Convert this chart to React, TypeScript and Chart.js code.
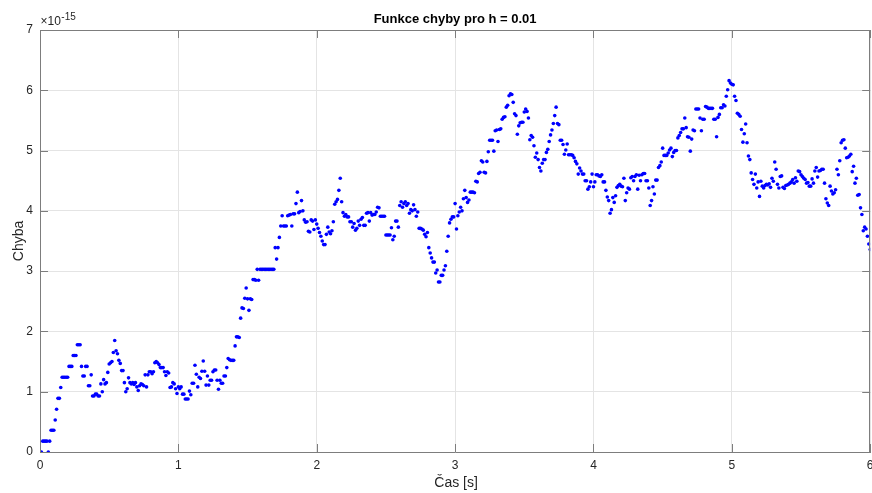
import React, { useEffect, useRef } from "react";
import { Chart, registerables } from "chart.js";

Chart.register(...registerables);

// Error values in units of 1e-15, sampled every h = 0.01 s
const STEP_H = 0.01;
const Y_EXPONENT = -15;

const err0to1 = [
  0, 0, 0.18, 0.18, 0.18, 0.18, 0, 0.18, 0.36, 0.36,
  0.36, 0.53, 0.71, 0.89, 0.89, 1.07, 1.24, 1.24, 1.24, 1.24,
  1.24, 1.42, 1.42, 1.42, 1.6, 1.6, 1.6, 1.78, 1.78, 1.78,
  1.42, 1.26, 1.26, 1.42, 1.42, 1.1, 1.1, 1.28, 0.93, 0.93,
  0.96, 0.96, 0.93, 0.93, 1.13, 1.0, 1.2, 1.13, 1.15, 1.32,
  1.46, 1.48, 1.5, 1.65, 1.85, 1.68, 1.63, 1.52, 1.47, 1.35,
  1.35, 1.15, 1.0, 1.05, 1.23, 1.15, 1.13, 1.15, 1.12, 1.15,
  1.08, 1.02, 1.1, 1.13, 1.12, 1.1, 1.28, 1.08, 1.28, 1.33,
  1.33, 1.3, 1.33, 1.48, 1.5, 1.48, 1.45, 1.4, 1.4, 1.4,
  1.33, 1.27, 1.33, 1.31, 1.07, 1.08, 1.15, 1.13, 1.05, 0.97,
];

const err1to2 = [
  1.08, 1.05, 1.08, 0.96, 0.96, 0.88, 0.88, 0.88, 1.01, 0.95,
  1.14, 1.14, 1.44, 1.29, 1.08, 1.24, 1.22, 1.34, 1.51, 1.34,
  1.11, 1.26, 1.11, 1.19, 1.19, 1.33, 1.36, 1.36, 1.19, 1.04,
  1.19, 1.14, 1.14, 1.26, 1.26, 1.4, 1.55, 1.53, 1.52, 1.52,
  1.52, 1.76, 1.91, 1.91, 1.9, 2.22, 2.39, 2.38, 2.55, 2.72,
  2.54, 2.35, 2.54, 2.53, 2.86, 2.86, 2.85, 3.03, 2.85, 3.03,
  3.03, 3.03, 3.03, 3.03, 3.03, 3.03, 3.03, 3.03, 3.03, 3.03,
  3.39, 3.2, 3.39, 3.56, 3.75, 3.92, 3.75, 3.75, 3.75, 3.92,
  3.93, 3.94, 3.75, 3.95, 3.95, 4.12, 4.31, 3.97, 3.99, 4.17,
  4.0, 3.85, 3.81, 3.82, 3.66, 3.65, 3.85, 3.83, 3.69, 3.85,
];

const err2to3 = [
  3.78, 3.71, 3.64, 3.58, 3.5, 3.44, 3.44, 3.61, 3.73, 3.65,
  3.62, 3.67, 3.82, 4.11, 4.15, 4.19, 4.34, 4.54, 4.15, 3.97,
  3.91, 3.94, 3.9, 3.9, 3.82, 3.82, 3.73, 3.79, 3.68, 3.71,
  3.83, 3.76, 3.86, 3.89, 3.76, 3.76, 3.96, 3.97, 3.83, 3.97,
  3.93, 3.94, 3.94, 3.98, 4.06, 4.05, 3.91, 3.91, 3.91, 3.91,
  3.6, 3.6, 3.6, 3.6, 3.72, 3.52, 3.58, 3.83, 3.83, 3.73,
  4.09, 4.15, 4.06, 4.12, 4.15, 4.09, 4.12, 3.96, 4.02, 4.0,
  4.1, 4.02, 3.91, 3.98, 3.71, 3.71, 3.7, 3.68, 3.61, 3.57,
  3.64, 3.39, 3.3, 3.22, 3.15, 3.15, 2.97, 3.02, 2.82, 2.82,
  2.93, 2.93, 3.02, 3.09, 3.33, 3.58, 3.8, 3.86, 3.9, 3.9,
];

const err3to4 = [
  4.12, 3.7, 3.92, 3.98, 4.06, 4.0, 4.2, 4.34, 4.22, 4.14,
  4.18, 4.31, 4.31, 4.31, 4.3, 4.49, 4.48, 4.62, 4.64, 4.83,
  4.81, 4.64, 4.63, 4.82, 4.98, 5.17, 5.17, 5.17, 4.99, 5.33,
  5.34, 5.15, 5.35, 5.36, 5.52, 5.55, 5.56, 5.72, 5.75, 5.91,
  5.94, 5.93, 5.8, 5.61, 5.58, 5.27, 5.41, 5.46, 5.47, 5.47,
  5.64, 5.69, 5.65, 5.54, 5.18, 5.25, 5.22, 5.08, 4.89, 4.96,
  4.85, 4.72, 4.66, 4.79, 4.85, 4.85, 4.97, 5.02, 5.15, 5.26,
  5.34, 5.45, 5.58, 5.72, 5.45, 5.43, 5.17, 5.17, 5.1, 4.94,
  5.01, 5.11, 4.93, 4.93, 4.93, 4.92, 4.88, 4.82, 4.78, 4.61,
  4.71, 4.66, 4.61, 4.61, 4.5, 4.5, 4.36, 4.4, 4.48, 4.61,
];

const err4to5 = [
  4.4, 4.48, 4.6, 4.6, 4.58, 4.57, 4.6, 4.48, 4.48, 4.34,
  4.23, 4.17, 3.96, 4.02, 4.22, 4.14, 4.25, 4.39, 4.42, 4.44,
  4.41, 4.4, 4.54, 4.17, 4.3, 4.38, 4.36, 4.55, 4.57, 4.5,
  4.57, 4.6, 4.36, 4.59, 4.5, 4.6, 4.62, 4.62, 4.5, 4.5,
  4.38, 4.09, 4.17, 4.4, 4.28, 4.51, 4.51, 4.72, 4.75, 4.81,
  5.04, 4.92, 4.92, 4.92, 4.96, 5.01, 5.04, 4.9, 4.97, 5.0,
  5.0, 5.21, 5.25, 5.3, 5.36, 5.36, 5.54, 5.38, 5.23, 5.22,
  4.99, 5.19, 5.34, 5.33, 5.69, 5.69, 5.69, 5.54, 5.33, 5.52,
  5.52, 5.73, 5.72, 5.7, 5.7, 5.7, 5.7, 5.52, 5.52, 5.23,
  5.55, 5.6, 5.71, 5.71, 5.76, 5.74, 5.9, 6.01, 6.16, 6.12,
];

const err5to6 = [
  6.1, 6.09, 5.9, 5.83, 5.62, 5.6, 5.57, 5.35, 5.14, 5.28,
  5.44, 5.13, 4.91, 4.85, 4.63, 4.52, 4.44, 4.61, 4.38, 4.48,
  4.24, 4.49, 4.41, 4.38, 4.42, 4.44, 4.43, 4.45, 4.39, 4.54,
  4.49, 4.81, 4.69, 4.44, 4.38, 4.57, 4.58, 4.39, 4.37, 4.42,
  4.43, 4.44, 4.46, 4.48, 4.52, 4.46, 4.55, 4.49, 4.66, 4.65,
  4.6, 4.57, 4.54, 4.52, 4.46, 4.47, 4.41, 4.41, 4.53, 4.46,
  4.66, 4.72, 4.56, 4.66, 4.67, 4.69, 4.69, 4.46, 4.2, 4.13,
  4.09, 4.41, 4.33, 4.28, 4.3, 4.35, 4.69, 4.6, 4.83, 5.13,
  5.17, 5.18, 5.04, 4.88, 4.89, 4.91, 4.94, 4.65, 4.74, 4.46,
  4.54, 4.26, 4.27, 4.05, 3.94, 3.67, 3.73, 3.7, 3.58, 3.45,
  3.36,
];

const X_TICKS = [0, 1, 2, 3, 4, 5, 6];
const Y_TICKS = [0, 1, 2, 3, 4, 5, 6, 7];

const TITLE = "Funkce chyby pro h = 0.01";
const X_LABEL = "Čas [s]";
const Y_LABEL = "Chyba";

const FONT = '"Liberation Sans", Arial, Helvetica, sans-serif';
const TEXT_COLOR = "#262626";
const AXIS_COLOR = "#7d7d7d";

export default function App() {
  const canvasRef = useRef<HTMLCanvasElement | null>(null);

  useEffect(() => {
    const canvas = canvasRef.current;
    if (!canvas) return;

    const allErr = [...err0to1, ...err1to2, ...err2to3, ...err3to4, ...err4to5, ...err5to6];
    const points = allErr.map((v, i) => ({ x: Math.round(i * STEP_H * 100) / 100, y: v }));

    const decor = {
      id: "matlabDecor",
      afterDraw(chart: any) {
        const { ctx, chartArea, scales } = chart;
        const { left, right, top, bottom } = chartArea;
        const xs = scales.x;
        const ys = scales.y;
        ctx.save();
        // box (top and right)
        ctx.strokeStyle = AXIS_COLOR;
        ctx.lineWidth = 1;
        ctx.beginPath();
        ctx.moveTo(left, Math.round(top) + 0.5);
        ctx.lineTo(right, Math.round(top) + 0.5);
        ctx.moveTo(Math.round(right) - 0.5, top);
        ctx.lineTo(Math.round(right) - 0.5, bottom);
        ctx.stroke();
        // inward ticks
        const TL = 8;
        ctx.beginPath();
        X_TICKS.forEach((t) => {
          const px = Math.round(xs.getPixelForValue(t)) + 0.5;
          ctx.moveTo(px, bottom);
          ctx.lineTo(px, bottom - TL);
          ctx.moveTo(px, top);
          ctx.lineTo(px, top + TL);
        });
        Y_TICKS.forEach((t) => {
          const py = Math.round(ys.getPixelForValue(t)) + 0.5;
          ctx.moveTo(left, py);
          ctx.lineTo(left + TL, py);
          ctx.moveTo(right, py);
          ctx.lineTo(right - TL, py);
        });
        ctx.stroke();

        // title
        ctx.fillStyle = "#000000";
        ctx.font = `bold 13px ${FONT}`;
        ctx.textAlign = "center";
        ctx.textBaseline = "alphabetic";
        ctx.fillText(TITLE, (left + right) / 2, 22.5);

        // x label
        ctx.fillStyle = TEXT_COLOR;
        ctx.font = `14px ${FONT}`;
        ctx.fillText(X_LABEL, (left + right) / 2 + 1, 487);

        // y label
        ctx.save();
        ctx.translate(22.5, (top + bottom) / 2);
        ctx.rotate(-Math.PI / 2);
        ctx.fillText(Y_LABEL, 0, 0);
        ctx.restore();

        // exponent
        ctx.textAlign = "left";
        ctx.font = `12px ${FONT}`;
        const base = "\u00d710";
        ctx.fillText(base, left + 0.5, 24.5);
        const w = ctx.measureText(base).width;
        ctx.font = `10px ${FONT}`;
        ctx.fillText(String(Y_EXPONENT), left + 0.5 + w + 0.5, 19.5);
        ctx.restore();
      },
    };

    const chart = new Chart(canvas, {
      type: "scatter",
      data: {
        datasets: [
          {
            data: points,
            backgroundColor: "#0000ff",
            borderColor: "#0000ff",
            borderWidth: 0,
            pointRadius: 1.8,
            pointHoverRadius: 1.8,
          },
        ],
      },
      options: {
        responsive: false,
        animation: false,
        events: [],
        layout: { padding: { top: 30, right: 1, left: 0, bottom: 0 } },
        plugins: {
          legend: { display: false },
          title: { display: false },
          tooltip: { enabled: false },
        },
        scales: {
          x: {
            type: "linear",
            min: 0,
            max: 6,
            afterFit: (s: any) => {
              s.height = 41;
              s.paddingLeft = 0;
              s.paddingRight = 0;
            },
            afterBuildTicks: (s: any) => {
              s.ticks = X_TICKS.map((v) => ({ value: v }));
            },
            ticks: {
              color: TEXT_COLOR,
              font: { family: FONT, size: 12 },
              padding: 6,
              maxRotation: 0,
              callback: (v: any) => String(v),
            },
            grid: { color: "#e4e4e4", lineWidth: 1, drawTicks: false },
            border: { display: true, color: AXIS_COLOR, width: 1 },
          },
          y: {
            type: "linear",
            min: 0,
            max: 7,
            afterFit: (s: any) => {
              s.width = 40;
              s.paddingTop = 0;
              s.paddingBottom = 0;
            },
            afterBuildTicks: (s: any) => {
              s.ticks = Y_TICKS.map((v) => ({ value: v }));
            },
            ticks: {
              color: TEXT_COLOR,
              font: { family: FONT, size: 12 },
              padding: 7,
              callback: (v: any) => String(v),
            },
            grid: { color: "#e4e4e4", lineWidth: 1, drawTicks: false },
            border: { display: true, color: AXIS_COLOR, width: 1 },
          },
        },
      },
      plugins: [decor],
    });

    return () => chart.destroy();
  }, []);

  return (
    <div style={{ position: "absolute", left: 0, top: 0, width: 872, height: 493, background: "#fff" }}>
      <canvas ref={canvasRef} width={872} height={493} style={{ display: "block" }} />
    </div>
  );
}
